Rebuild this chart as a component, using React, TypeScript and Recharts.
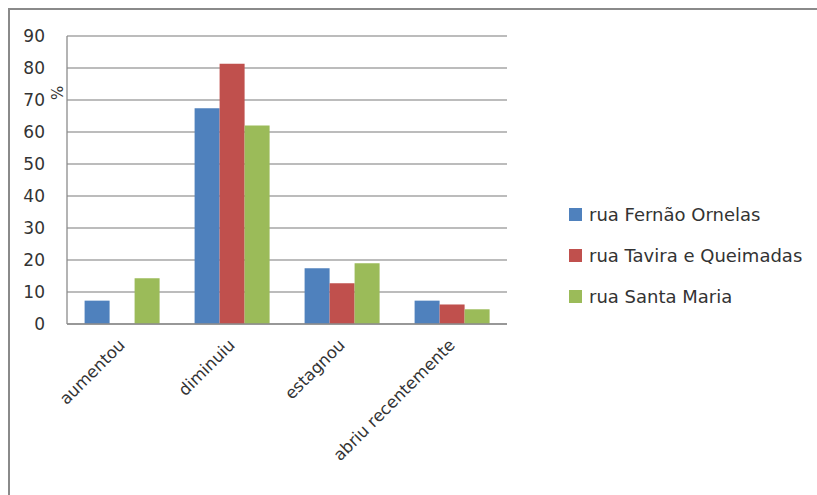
import React from 'react';
import { BarChart, Bar, XAxis, YAxis, CartesianGrid } from 'recharts';

const categories = ['aumentou', 'diminuiu', 'estagnou', 'abriu recentemente'];
const fernaoOrnelas = [7.3, 67.4, 17.4, 7.3];
const taviraQueimadas = [0, 81.3, 12.7, 6.1];
const santaMaria = [14.3, 62.0, 19.0, 4.6];
const yTicks = [0, 10, 20, 30, 40, 50, 60, 70, 80, 90];

const series = [
  { key: 'fernao', name: 'rua Fernão Ornelas', color: '#4F81BD' },
  { key: 'tavira', name: 'rua Tavira e Queimadas', color: '#C0504D' },
  { key: 'santa', name: 'rua Santa Maria', color: '#9BBB59' },
];

const data = categories.map((name, i) => ({
  name,
  fernao: fernaoOrnelas[i],
  tavira: taviraQueimadas[i],
  santa: santaMaria[i],
}));

const FONT = '"DejaVu Sans", "Liberation Sans", sans-serif';

const AngledTick = (props: any) => {
  const { x, y, payload } = props;
  return (
    <g transform={`translate(${x + 4},${y + 14})`}>
      <text
        transform="rotate(-45)"
        textAnchor="end"
        fill="#333"
        fontSize={16.5}
        fontFamily={FONT}
      >
        {payload.value}
      </text>
    </g>
  );
};

export default function App() {
  return (
    <div
      style={{
        position: 'fixed',
        left: 8,
        top: 8,
        width: 809,
        height: 487,
        borderTop: '2px solid #8a8a8a',
        borderLeft: '2px solid #8a8a8a',
        boxSizing: 'border-box',
        fontFamily: FONT,
        background: '#fff',
        overflow: 'hidden',
      }}
    >
      <BarChart
        width={807}
        height={485}
        data={data}
        margin={{ top: 26, right: 310, left: 0, bottom: 0 }}
        barCategoryGap="16%"
        barGap={0}
      >
        <CartesianGrid vertical={false} stroke="#a6a6a6" strokeWidth={1.3} />
        <XAxis
          dataKey="name"
          tick={<AngledTick />}
          tickLine={false}
          axisLine={{ stroke: '#8c8c8c', strokeWidth: 1.3 }}
          interval={0}
          height={171}
        />
        <YAxis
          domain={[0, 90]}
          ticks={yTicks}
          width={57}
          tickLine={false}
          tickSize={0}
          tickMargin={22}
          axisLine={{ stroke: '#8c8c8c', strokeWidth: 1.3 }}
          tick={{ fill: '#333', fontSize: 17, fontFamily: FONT }}
        />
        {series.map((s) => (
          <Bar key={s.key} dataKey={s.key} name={s.name} fill={s.color} isAnimationActive={false} />
        ))}
      </BarChart>
      <div
        style={{
          position: 'absolute',
          left: 39,
          top: 74,
          fontSize: 15,
          color: '#333',
          transform: 'rotate(90deg)',
          transformOrigin: 'center',
        }}
      >
        %
      </div>
      <div style={{ position: 'absolute', left: 559, top: 184 }}>
        {series.map((s) => (
          <div
            key={s.key}
            style={{ display: 'flex', alignItems: 'center', height: 41, fontSize: 18, color: '#333' }}
          >
            <span style={{ width: 13, height: 13, background: s.color, marginRight: 7, display: 'inline-block' }} />
            {s.name}
          </div>
        ))}
      </div>
    </div>
  );
}
